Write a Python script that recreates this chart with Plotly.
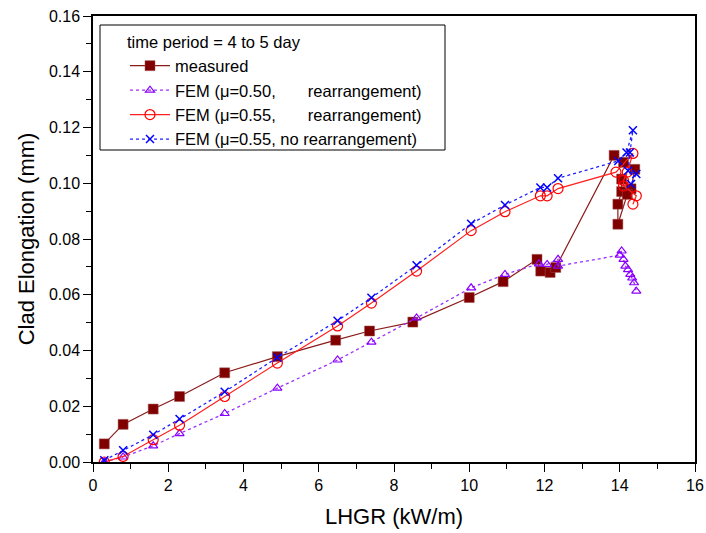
import plotly.graph_objects as go

# ---- data ----
meas_x = [0.3, 0.8, 1.6, 2.3, 3.5, 4.9, 6.45, 7.35, 8.5, 10.0, 10.9, 11.8, 11.9, 12.15, 12.3,
          13.85, 14.1, 14.4, 14.3, 14.05, 14.05, 13.95, 13.95, 14.2]
meas_y = [0.0065, 0.0135, 0.019, 0.0235, 0.032, 0.0378, 0.0437, 0.047, 0.0502, 0.059, 0.0647, 0.0727, 0.0685, 0.068, 0.0698,
          0.110, 0.1075, 0.105, 0.098, 0.1015, 0.097, 0.0925, 0.0853, 0.096]

fem50_x = [0.3, 0.8, 1.6, 2.3, 3.5, 4.9, 6.5, 7.4, 8.6, 10.05, 10.95, 11.85, 12.07, 12.36, 12.36,
           14.0, 14.05, 14.1, 14.15, 14.22, 14.28, 14.33, 14.38, 14.44]
fem50_y = [0.0, 0.0018, 0.0058, 0.0102, 0.0174, 0.0265, 0.0366, 0.043, 0.0517, 0.0625, 0.0673, 0.0711, 0.0709, 0.0727, 0.0703,
           0.0742, 0.0757, 0.0727, 0.0703, 0.069, 0.0673, 0.066, 0.0643, 0.0613]

fem55_x = [0.3, 0.8, 1.6, 2.3, 3.5, 4.9, 6.5, 7.4, 8.6, 10.05, 10.95, 11.89, 12.07, 12.36,
           13.9, 14.35, 14.2, 14.1, 14.1, 14.44, 14.35]
fem55_y = [0.0, 0.002, 0.008, 0.0132, 0.0235, 0.0355, 0.0488, 0.057, 0.0685, 0.083, 0.0898, 0.0955, 0.0955, 0.0981,
           0.104, 0.1107, 0.104, 0.101, 0.099, 0.0955, 0.0925]

fem55nr_x = [0.3, 0.8, 1.6, 2.3, 3.5, 4.9, 6.5, 7.4, 8.6, 10.05, 10.95, 11.89, 12.07, 12.36,
             13.96, 14.18, 14.35, 14.27, 14.22, 14.44, 14.3]
fem55nr_y = [0.0006, 0.0042, 0.0098, 0.0154, 0.0252, 0.0375, 0.0507, 0.0589, 0.0706, 0.0855, 0.0922, 0.0985, 0.0985, 0.1018,
             0.108, 0.111, 0.119, 0.111, 0.1045, 0.1033, 0.0997]

x_ticks = [0, 2, 4, 6, 8, 10, 12, 14, 16]
y_ticks = [0.00, 0.02, 0.04, 0.06, 0.08, 0.10, 0.12, 0.14, 0.16]

FONT = "Liberation Sans, Arial, sans-serif"
NB = "\u00a0"

W, H = 706, 533
# plot-area geometry in window pixels
PX0, PX1, PY0, PY1 = 93, 695, 16, 462


def px(X):
    return (X - PX0) / (PX1 - PX0)


def py(Y):
    return (PY1 - Y) / (PY1 - PY0)


fig = go.Figure()
fig.add_trace(go.Scatter(
    x=meas_x, y=meas_y, mode="lines+markers", name="measured",
    line=dict(color="#8B1A1A", width=1.2),
    marker=dict(symbol="square", size=10, color="#800000", line=dict(color="#A05050", width=0.5)),
))
fig.add_trace(go.Scatter(
    x=fem50_x, y=fem50_y, mode="lines+markers",
    name="FEM (\u03bc=0.50," + NB * 7 + "rearrangement)",
    line=dict(color="#9B30FF", width=1.3, dash="dot"),
    marker=dict(symbol="triangle-up-open", size=8, color="#8A00FF", line=dict(width=1.2)),
))
fig.add_trace(go.Scatter(
    x=fem55_x, y=fem55_y, mode="lines+markers",
    name="FEM (\u03bc=0.55," + NB * 7 + "rearrangement)",
    line=dict(color="#FF2020", width=1.2),
    marker=dict(symbol="circle-open", size=10, color="#FF0000", line=dict(width=1.2)),
))
fig.add_trace(go.Scatter(
    x=fem55nr_x, y=fem55nr_y, mode="lines+markers",
    name="FEM (\u03bc=0.55, no rearrangement)",
    line=dict(color="#2020FF", width=1.3, dash="dot"),
    marker=dict(symbol="x-thin-open", size=8, color="#0000FF", line=dict(width=1.5, color="#0000FF")),
))

axis_common = dict(
    showgrid=False, zeroline=False, showline=True, linecolor="black", linewidth=1.5,
    mirror=True, ticks="outside", ticklen=8, tickwidth=1.3, tickcolor="black",
    tickfont=dict(family=FONT, size=16, color="black"),
    ticklabeloverflow="allow",
)
fig.update_xaxes(
    range=[0, 16], tickvals=x_ticks, ticktext=[str(v) for v in x_ticks],
    minor=dict(dtick=1, ticks="outside", ticklen=5, tickwidth=1.3, tickcolor="black"),
    title=dict(text="LHGR (kW/m)", font=dict(family=FONT, size=22, color="black"), standoff=16),
    **axis_common,
)
fig.update_yaxes(
    range=[0, 0.16], tickvals=y_ticks, ticktext=[f"{v:.2f}" for v in y_ticks],
    minor=dict(dtick=0.01, ticks="outside", ticklen=5, tickwidth=1.3, tickcolor="black"),
    title=dict(text="Clad Elongation (mm)", font=dict(family=FONT, size=22, color="black"), standoff=8),
    **axis_common,
)

# legend frame (drawn as a plain rectangle)
fig.add_shape(type="rect", xref="paper", yref="paper",
              x0=px(100), x1=px(445), y0=py(150), y1=py(25),
              line=dict(color="black", width=1), fillcolor="white", layer="above")

fig.update_layout(
    width=W, height=H,
    margin=dict(l=PX0, r=W - PX1, t=PY0, b=H - PY1, autoexpand=False),
    plot_bgcolor="white", paper_bgcolor="white",
    font=dict(family=FONT, size=16, color="black"),
    legend=dict(
        title=dict(text="time period = 4 to 5 day", font=dict(family=FONT, size=16.5)),
        x=px(125), y=py(27), xanchor="left", yanchor="top",
        bgcolor="rgba(0,0,0,0)", borderwidth=0,
        font=dict(family=FONT, size=16.5, color="black"),
        itemwidth=40, tracegroupgap=0,
    ),
)

# remove the page body's default 8px margin so the figure fills the window exactly
fig.write_html("out.html",
               config={"displayModeBar": False},
               post_script="document.body.style.margin='0';document.body.style.overflow='hidden';")
